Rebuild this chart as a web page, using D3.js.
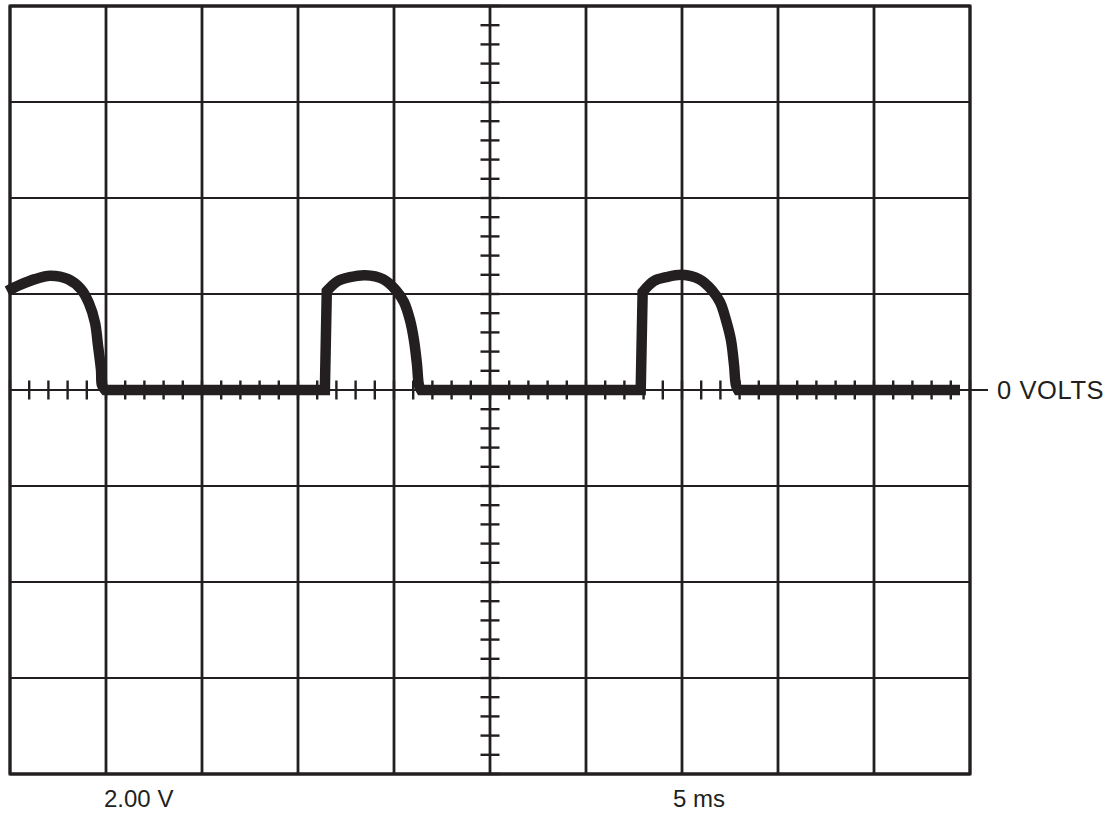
<!DOCTYPE html>
<html>
<head>
<meta charset="utf-8">
<script src="https://cdn.jsdelivr.net/npm/d3@7"></script>
<style>
  html, body { margin: 0; padding: 0; background: #fff; }
  svg { display: block; }
</style>
</head>
<body>
<div id="scope"></div>
<script>
// vars
let W = 1111, H = 815;
let ink = "#231f20";

// screen: 10 divisions of 5 ms, 8 divisions of 2.00 V
let timeDivs = [0, 5, 10, 15, 20, 25, 30, 35, 40, 45, 50];
let voltDivs = [-8, -6, -4, -2, 0, 2, 4, 6, 8];
let timeTicks = d3.range(0, 51, 1);        // minor ticks, 1 ms
let voltTicks = d3.range(-8, 8.01, 0.4);   // minor ticks, 0.4 V

// trace points: [ms, volts]
let hump1 = [[-0.15, 2.06], [0.52, 2.19], [1.30, 2.31], [2.08, 2.38], [3.02, 2.31], [3.70, 2.10],
  [4.11, 1.81], [4.43, 1.40], [4.58, 0.94], [4.74, 0.42], [4.79, 0.10], [4.95, 0]];
let hump2 = [[16.40, 0], [16.50, 2.06], [17.08, 2.27], [17.71, 2.35], [18.49, 2.39], [19.43, 2.31],
  [20.10, 2.08], [20.52, 1.83], [20.83, 1.46], [21.04, 1.04], [21.20, 0.52], [21.30, 0.10], [21.41, 0]];
let hump3 = [[32.85, 0], [32.95, 2.04], [33.54, 2.27], [34.17, 2.35], [35.00, 2.40], [35.89, 2.31],
  [36.56, 2.08], [36.98, 1.83], [37.29, 1.46], [37.55, 1.04], [37.71, 0.52], [37.81, 0.10], [37.92, 0]];
let traceEnd = [[49.48, 0]];

let voltLabel = "2.00 V";
let timeLabel = "5 ms";
let zeroLabel = "0 VOLTS";

drawScope();

/**
 * Draw the scope screen, graticule and trace.
 */
function drawScope() {
  let svg = d3.select("#scope")
    .append("svg")
    .attr("width", W)
    .attr("height", H)
    .attr("viewBox", "0 0 " + W + " " + H);

  let x = d3.scaleLinear().domain([0, 50]).range([10, 970]);
  let y = d3.scaleLinear().domain([-8, 8]).range([774, 6]);

  // graticule
  let grid = svg.append("g").attr("id", "grid");
  grid.selectAll("line.v").data(timeDivs).join("line")
    .attr("class", "v")
    .attr("x1", d => x(d)).attr("x2", d => x(d))
    .attr("y1", y(8)).attr("y2", y(-8))
    .attr("stroke", ink)
    .attr("stroke-width", 2.8);
  grid.selectAll("line.h").data(voltDivs).join("line")
    .attr("class", "h")
    .attr("x1", x(0)).attr("x2", x(50))
    .attr("y1", d => y(d)).attr("y2", d => y(d))
    .attr("stroke", ink)
    .attr("stroke-width", d => (d == 8 || d == -8) ? 3 : 2);

  // outer border
  grid.append("rect")
    .attr("x", x(0)).attr("y", y(8))
    .attr("width", x(50) - x(0))
    .attr("height", y(-8) - y(8))
    .attr("fill", "none")
    .attr("stroke", ink)
    .attr("stroke-width", 3);

  // center axes with minor ticks
  let axes = svg.append("g").attr("id", "axes");
  axes.append("line")
    .attr("x1", x(0)).attr("x2", x(50) + 18)
    .attr("y1", y(0)).attr("y2", y(0))
    .attr("stroke", ink)
    .attr("stroke-width", 2.2);
  axes.selectAll("line.tx").data(timeTicks).join("line")
    .attr("class", "tx")
    .attr("x1", d => x(d)).attr("x2", d => x(d))
    .attr("y1", y(0) - 9.5).attr("y2", y(0) + 9.5)
    .attr("stroke", ink)
    .attr("stroke-width", 2.4);
  axes.selectAll("line.ty").data(voltTicks).join("line")
    .attr("class", "ty")
    .attr("x1", x(25) - 9.5).attr("x2", x(25) + 9.5)
    .attr("y1", d => y(d)).attr("y2", d => y(d))
    .attr("stroke", ink)
    .attr("stroke-width", 2.4);

  // trace: humps are smooth, flats and rises are straight
  let curved = d3.line()
    .x(d => x(d[0]))
    .y(d => y(d[1]))
    .curve(d3.curveCatmullRom.alpha(0.5));
  let straight = d3.line()
    .x(d => x(d[0]))
    .y(d => y(d[1]));
  let last = a => a[a.length - 1];
  let pieces = [
    curved(hump1),
    straight([last(hump1), hump2[0], hump2[1]]),
    curved(hump2.slice(1)),
    straight([last(hump2), hump3[0], hump3[1]]),
    curved(hump3.slice(1)),
    straight([last(hump3)].concat(traceEnd))
  ];
  let d = pieces.map((p, i) => i == 0 ? p : p.replace(/^M/, "L")).join("");
  svg.append("path")
    .attr("d", d)
    .attr("fill", "none")
    .attr("stroke", ink)
    .attr("stroke-width", 10.5)
    .attr("stroke-linejoin", "miter")
    .attr("stroke-linecap", "butt");

  // labels
  let font = "'Liberation Sans', Arial, Helvetica, sans-serif";
  svg.append("text")
    .attr("x", 997).attr("y", y(0) + 9)
    .text(zeroLabel)
    .style("font-family", font)
    .style("font-size", "25.5px")
    .style("letter-spacing", "0.6px")
    .style("fill", ink);
  svg.append("text")
    .attr("x", 104).attr("y", 807)
    .text(voltLabel)
    .style("font-family", font)
    .style("font-size", "24px")
    .style("fill", ink);
  svg.append("text")
    .attr("x", 673).attr("y", 807)
    .text(timeLabel)
    .style("font-family", font)
    .style("font-size", "24px")
    .style("fill", ink);
}
</script>
</body>
</html>
